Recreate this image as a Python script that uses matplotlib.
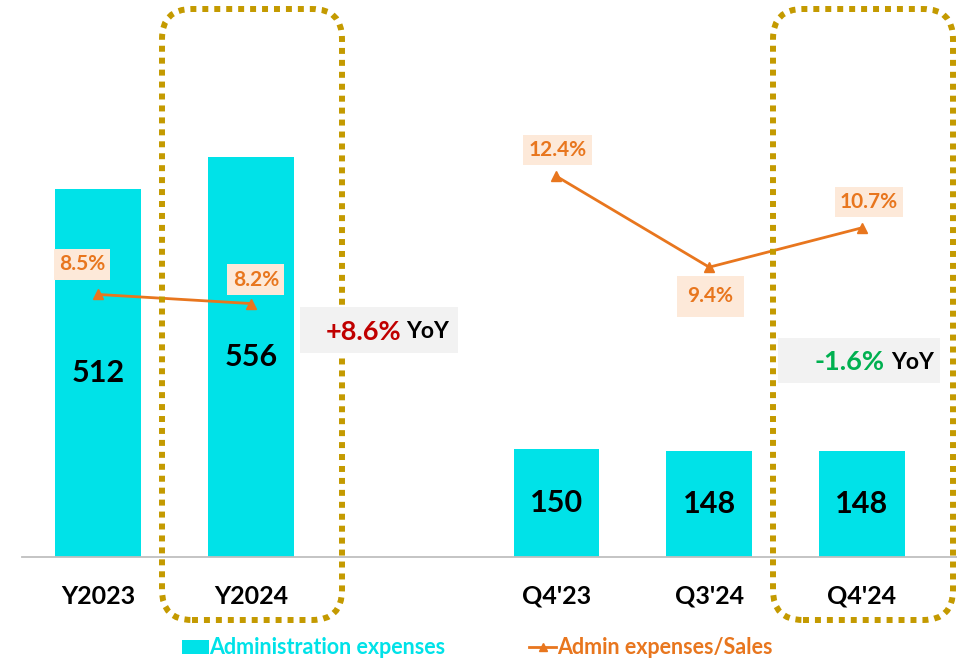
import numpy as np
import matplotlib
matplotlib.use("Agg")
import matplotlib.pyplot as plt
from matplotlib.patches import FancyBboxPatch, Rectangle
from matplotlib.lines import Line2D
from matplotlib.transforms import IdentityTransform

plt.rcParams['font.family'] = ['Lato', 'DejaVu Sans']

# Data
categories = ["Y2023", "Y2024", "", "Q4'23", "Q3'24", "Q4'24"]
admin_exp = [512, 556, np.nan, 150, 148, 148]
ratio = [8.5, 8.2, np.nan, 12.4, 9.4, 10.7]
ratio_labels = ["8.5%", "8.2%", "", "12.4%", "9.4%", "10.7%"]

# label offsets (pixels) for the ratio labels
label_offsets = [(-16, 30), (5, 24), (0, 0), (1, 26), (1, -29), (7, 26)]

CYAN = "#00E2E8"
ORANGE = "#E8761E"
GOLD = "#C49A00"

W, H = 957, 660
fig = plt.figure(figsize=(W / 100, H / 100), dpi=100)

# axes: px 22..957 horizontally, baseline at 557, top at 10
ax = fig.add_axes([22 / W, (H - 557) / H, (W - 22) / W, 547 / H])
x = np.arange(len(categories))
ax.set_xlim((22 - 98) / 152.8, (957 - 98) / 152.8)
ax.set_ylim(0, 547 / 0.719)

bars = ax.bar(x, admin_exp, width=0.56, color=CYAN, zorder=2)
for xi, v in zip(x, admin_exp):
    if not np.isnan(v):
        ax.text(xi, v / 2, f"{v:.0f}", ha="center", va="center",
                fontsize=22, fontweight="bold", color="black", zorder=5)

ax.set_yticks([])
for s in ["top", "right", "left"]:
    ax.spines[s].set_visible(False)
ax.spines["bottom"].set_color("#BFBFBF")
ax.spines["bottom"].set_linewidth(1.3)
ax.set_xticks([0, 1, 3, 4, 5])
ax.set_xticklabels([categories[i] for i in [0, 1, 3, 4, 5]],
                   fontsize=18, fontweight="bold")
ax.tick_params(axis="x", length=0, pad=20)

# secondary axis for ratio
ax2 = ax.twinx()
ax2.set_ylim(-5 / 30.3, 542 / 30.3)
ax2.set_yticks([])
for s in ax2.spines.values():
    s.set_visible(False)
ax2.plot(x, ratio, color=ORANGE, lw=2, marker="^", markersize=7, zorder=4)
for xi, v, lab, off in zip(x, ratio, ratio_labels, label_offsets):
    if np.isnan(v):
        continue
    pad = 0.5 if lab == "9.4%" else 0.25
    ax2.annotate(lab, (xi, v), xytext=off, textcoords="offset pixels",
                 ha="center", va="center", fontsize=15, fontweight="bold",
                 color=ORANGE,
                 bbox=dict(boxstyle=f"square,pad={pad}", fc="#FDE9D9", ec="none"))

# dotted rounded frames
for x0, x1 in [(162, 342), (773, 953)]:
    y0, y1 = 9, 620
    fr = FancyBboxPatch((x0, H - y1), x1 - x0, y1 - y0,
                        boxstyle="round,pad=0,rounding_size=30",
                        fill=False, ec=GOLD, lw=4.3, linestyle=(0, (1, 1)),
                        transform=IdentityTransform(), figure=fig, zorder=2)
    fig.patches.append(fr)

# YoY boxes (figure pixel coords, y from top)
def yoy_box(x0, y0, x1, y1, pct, pct_color, tx_pct, tx_yoy):
    fig.patches.append(Rectangle((x0, H - y1), x1 - x0, y1 - y0, fc="#F2F2F2",
                                 ec="none", transform=IdentityTransform(),
                                 figure=fig, zorder=3))
    yc = H - (y0 + y1) / 2
    fig.text(tx_pct, yc, pct, transform=IdentityTransform(), ha="left",
             va="center_baseline", fontsize=19.5, fontweight="bold",
             color=pct_color, zorder=6)
    fig.text(tx_yoy, yc, "YoY", transform=IdentityTransform(), ha="left",
             va="center_baseline", fontsize=16.5, fontweight="bold",
             color="black", zorder=6)

yoy_box(300, 307, 458, 353, "+8.6%", "#C00000", 326, 406)
yoy_box(778, 338, 940, 383, "-1.6%", "#00B050", 814, 891)

# legend
handles = [Rectangle((0, 0), 1, 1, fc=CYAN, ec="none"),
           Line2D([0], [0], color=ORANGE, lw=2, marker="^", markersize=6)]
leg = fig.legend(handles, ["Administration expenses", "Admin expenses/Sales"],
                 loc="center", bbox_to_anchor=(477 / W, 12 / H), ncol=2,
                 frameon=False, handlelength=1.25, handleheight=0.6,
                 handletextpad=0.02, columnspacing=3.9,
                 prop={"size": 15.5, "weight": "bold"})
for t, c in zip(leg.get_texts(), [CYAN, ORANGE]):
    t.set_color(c)

fig.savefig("out.png", dpi=100)
